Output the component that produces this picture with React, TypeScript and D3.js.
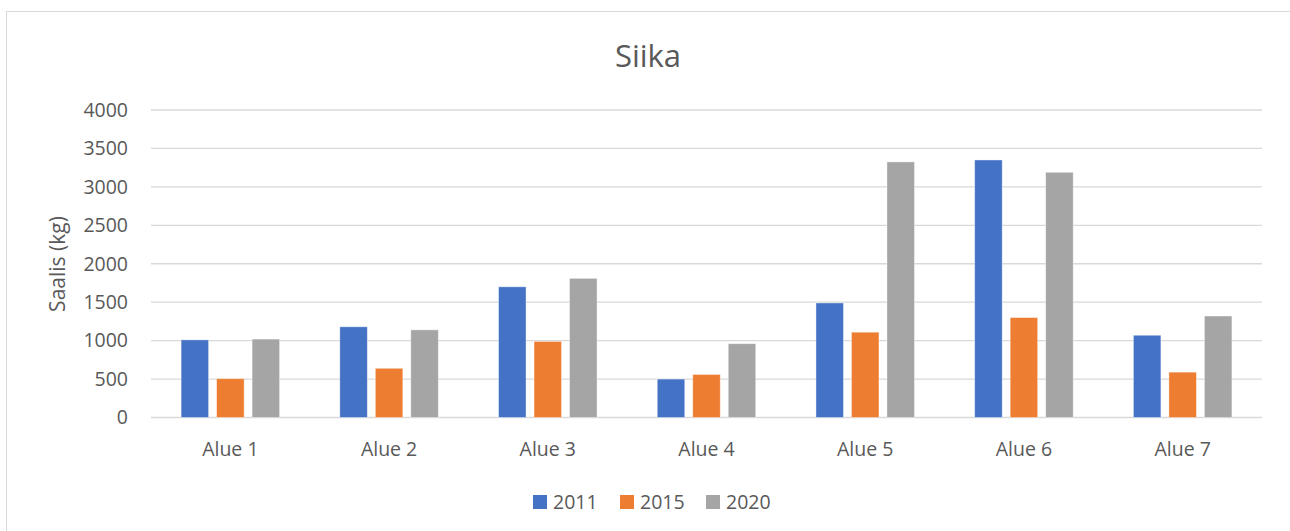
import { useRef, useEffect } from 'react';
import * as d3 from 'd3';

const categories = ['Alue 1', 'Alue 2', 'Alue 3', 'Alue 4', 'Alue 5', 'Alue 6', 'Alue 7'];
const seriesNames = ['2011', '2015', '2020'];
const values2011 = [1010, 1180, 1700, 500, 1490, 3350, 1070];
const values2015 = [505, 640, 990, 560, 1110, 1300, 590];
const values2020 = [1020, 1140, 1810, 960, 3325, 3190, 1320];
const yTicks = [0, 500, 1000, 1500, 2000, 2500, 3000, 3500, 4000];
const colors = ['#4472C4', '#ED7D31', '#A5A5A5'];

export default function App() {
  const svgRef = useRef<SVGSVGElement>(null);

  useEffect(() => {
    const w = 1290;
    const h = 531;
    const font = 'Open Sans, Noto Sans, sans-serif';
    const textColor = '#595959';
    const svg = d3.select(svgRef.current).attr('width', w).attr('height', h);
    svg.selectAll('*').remove();

    // chart border
    svg
      .append('rect')
      .attr('x', 6.5)
      .attr('y', 11.5)
      .attr('width', 1300)
      .attr('height', 540)
      .attr('fill', 'white')
      .attr('stroke', '#d9d9d9')
      .attr('stroke-width', 1);

    // scales
    const x0 = d3.scaleBand().domain(categories).range([151, 1262]);
    const x1 = d3
      .scaleBand()
      .domain(seriesNames)
      .range([0, x0.bandwidth()])
      .paddingInner(0.225)
      .paddingOuter(0.848);
    const y = d3.scaleLinear().domain([0, 4000]).range([417.5, 110]);

    // gridlines
    svg
      .append('g')
      .selectAll('line')
      .data(yTicks)
      .enter()
      .append('line')
      .attr('x1', 151)
      .attr('x2', 1262)
      .attr('y1', (d) => y(d))
      .attr('y2', (d) => y(d))
      .attr('stroke', '#d9d9d9')
      .attr('stroke-width', 1.3);

    // y tick labels
    svg
      .append('g')
      .selectAll('text')
      .data(yTicks)
      .enter()
      .append('text')
      .attr('x', 128)
      .attr('y', (d) => y(d))
      .attr('dy', '0.35em')
      .attr('text-anchor', 'end')
      .attr('font-family', font)
      .attr('font-size', 19.5)
      .attr('fill', textColor)
      .text((d) => d);

    // bars
    const allSeries = [values2011, values2015, values2020];
    seriesNames.forEach((s, i) => {
      svg
        .append('g')
        .selectAll('rect')
        .data(allSeries[i])
        .enter()
        .append('rect')
        .attr('x', (d, j) => x0(categories[j])! + x1(s)!)
        .attr('y', (d) => y(d))
        .attr('width', x1.bandwidth())
        .attr('height', (d) => y(0) - y(d))
        .attr('fill', colors[i])
        .attr('stroke', 'white')
        .attr('stroke-opacity', 0.5)
        .attr('stroke-width', 0.8);
    });

    // category labels
    svg
      .append('g')
      .selectAll('text')
      .data(categories)
      .enter()
      .append('text')
      .attr('x', (d) => x0(d)! + x0.bandwidth() / 2)
      .attr('y', 456)
      .attr('text-anchor', 'middle')
      .attr('font-family', font)
      .attr('font-size', 19.5)
      .attr('fill', textColor)
      .text((d) => d);

    // title
    svg
      .append('text')
      .attr('x', 648)
      .attr('y', 67)
      .attr('text-anchor', 'middle')
      .attr('font-family', font)
      .attr('font-size', 31)
      .attr('fill', textColor)
      .text('Siika');

    // y axis title
    svg
      .append('text')
      .attr('transform', 'translate(65, 264) rotate(-90)')
      .attr('text-anchor', 'middle')
      .attr('font-family', font)
      .attr('font-size', 21)
      .attr('fill', textColor)
      .text('Saalis (kg)');

    // legend
    const legendX = [533, 620, 706];
    const legend = svg
      .append('g')
      .selectAll('g')
      .data(seriesNames)
      .enter()
      .append('g')
      .attr('transform', (d, i) => `translate(${legendX[i]}, 495)`);
    legend
      .append('rect')
      .attr('width', 14)
      .attr('height', 14)
      .attr('fill', (d, i) => colors[i]);
    legend
      .append('text')
      .attr('x', 20)
      .attr('y', 7)
      .attr('dy', '0.35em')
      .attr('font-family', font)
      .attr('font-size', 19.5)
      .attr('fill', textColor)
      .text((d) => d);
  }, []);

  return <svg ref={svgRef} style={{ position: 'absolute', left: 0, top: 0 }}></svg>;
}
